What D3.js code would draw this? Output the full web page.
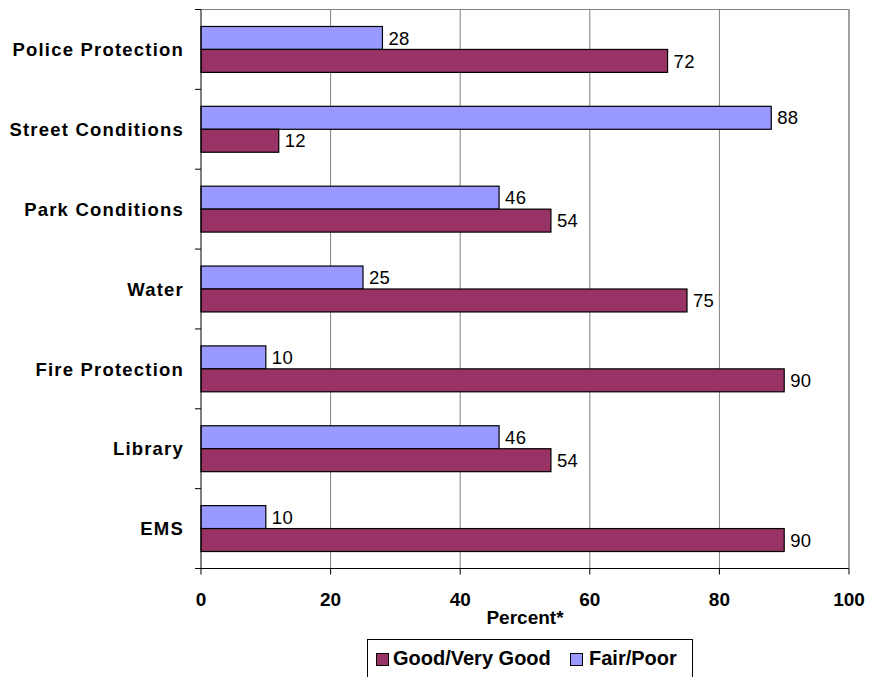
<!DOCTYPE html>
<html><head><meta charset="utf-8">
<script src="https://cdn.jsdelivr.net/npm/d3@7/dist/d3.min.js"></script>
<style>body{margin:0;background:#fff}svg{display:block}</style>
</head><body>
<svg id="c" width="876" height="677"></svg>
<script>
const categories = ["Police Protection","Street Conditions","Park Conditions","Water","Fire Protection","Library","EMS"];
const goodVeryGood = [72,12,54,75,90,54,90];
const fairPoor = [28,88,46,25,10,46,10];
const xTicks = [0,20,40,60,80,100];
const seriesNames = ["Fair/Poor","Good/Very Good"];
const colors = {"Good/Very Good":"#993366","Fair/Poor":"#9999FF"};

const svg = d3.select("#c");
const L=201, R=849, T=9.5, B=568.5;
const font = "'Liberation Sans', Arial, sans-serif";
const x = d3.scaleLinear().domain([0,100]).range([L,R]);
const y0 = d3.scaleBand().domain(categories).range([T,B]).padding(0);
const y1 = d3.scaleBand().domain(seriesNames).range([0,y0.bandwidth()]).paddingInner(0).paddingOuter(0.74);

// gridlines
svg.append("g").selectAll("line").data(xTicks.filter(d=>d>0)).join("line")
  .attr("x1",d=>x(d)).attr("x2",d=>x(d)).attr("y1",T).attr("y2",B)
  .attr("stroke","#808080").attr("stroke-width",1);
svg.append("line").attr("x1",L).attr("x2",R).attr("y1",T).attr("y2",T).attr("stroke","#808080");

const rows = categories.map((c,i)=>({c, vals:[{s:"Fair/Poor",v:fairPoor[i]},{s:"Good/Very Good",v:goodVeryGood[i]}]}));
const g = svg.append("g").selectAll("g").data(rows).join("g").attr("transform",d=>`translate(0,${y0(d.c)})`);
g.selectAll("rect").data(d=>d.vals).join("rect")
  .attr("x",L).attr("y",d=>y1(d.s)).attr("width",d=>x(d.v)-L).attr("height",y1.bandwidth())
  .attr("fill",d=>colors[d.s]).attr("stroke","#000").attr("stroke-width",1.2);
g.selectAll("text").data(d=>d.vals).join("text")
  .attr("x",d=>x(d.v)+6).attr("y",d=>y1(d.s)+y1.bandwidth()/2).attr("dy","0.36em")
  .attr("font-family",font).attr("font-size",18.5).attr("letter-spacing","0.3px").text(d=>d.v);

// y axis
const yAxis = svg.append("g").attr("transform",`translate(${L},0)`);
yAxis.append("line").attr("x1",0).attr("x2",0).attr("y1",T).attr("y2",B).attr("stroke","#000");
const yTickPos = categories.map(c=>y0(c)).concat([B]);
yAxis.selectAll("line.t").data(yTickPos).join("line").attr("class","t")
  .attr("x1",-6).attr("x2",0).attr("y1",d=>d).attr("y2",d=>d).attr("stroke","#000");
yAxis.selectAll("text").data(categories).join("text")
  .attr("x",-17).attr("y",c=>y0(c)+y0.bandwidth()/2).attr("dy","0.36em")
  .attr("text-anchor","end").attr("font-family",font).attr("font-weight","bold")
  .attr("font-size",18.5).attr("letter-spacing","1.2px").text(c=>c);

// x axis
const xAxis = svg.append("g").attr("transform",`translate(0,${B})`);
xAxis.append("line").attr("x1",L-6).attr("x2",R).attr("y1",0).attr("y2",0).attr("stroke","#000");
xAxis.selectAll("line.t").data(xTicks).join("line").attr("class","t")
  .attr("x1",d=>x(d)).attr("x2",d=>x(d)).attr("y1",0).attr("y2",6).attr("stroke","#000");
xAxis.selectAll("text").data(xTicks).join("text")
  .attr("x",d=>x(d)).attr("y",37).attr("text-anchor","middle")
  .attr("font-family",font).attr("font-weight","bold").attr("font-size",19).text(d=>d);
svg.append("line").attr("x1",R).attr("x2",R).attr("y1",T).attr("y2",B).attr("stroke","#808080");

svg.append("text").attr("x",(L+R)/2).attr("y",624).attr("text-anchor","middle")
  .attr("font-family",font).attr("font-weight","bold").attr("font-size",19).text("Percent*");

// legend
const lg = svg.append("g");
lg.append("rect").attr("x",367.5).attr("y",639.5).attr("width",325).attr("height",50)
  .attr("fill","#fff").attr("stroke","#000").attr("stroke-width",1);
const legendItems = [{s:"Good/Very Good",x:376,tx:393},{s:"Fair/Poor",x:570,tx:589}];
lg.selectAll("rect.sw").data(legendItems).join("rect").attr("class","sw")
  .attr("x",d=>d.x+0.5).attr("y",653.5).attr("width",12).attr("height",12)
  .attr("fill",d=>colors[d.s]).attr("stroke","#000");
lg.selectAll("text").data(legendItems).join("text")
  .attr("x",d=>d.tx).attr("y",664.5).attr("font-family",font).attr("font-weight","bold")
  .attr("font-size",20).text(d=>d.s);
</script>
</body></html>
